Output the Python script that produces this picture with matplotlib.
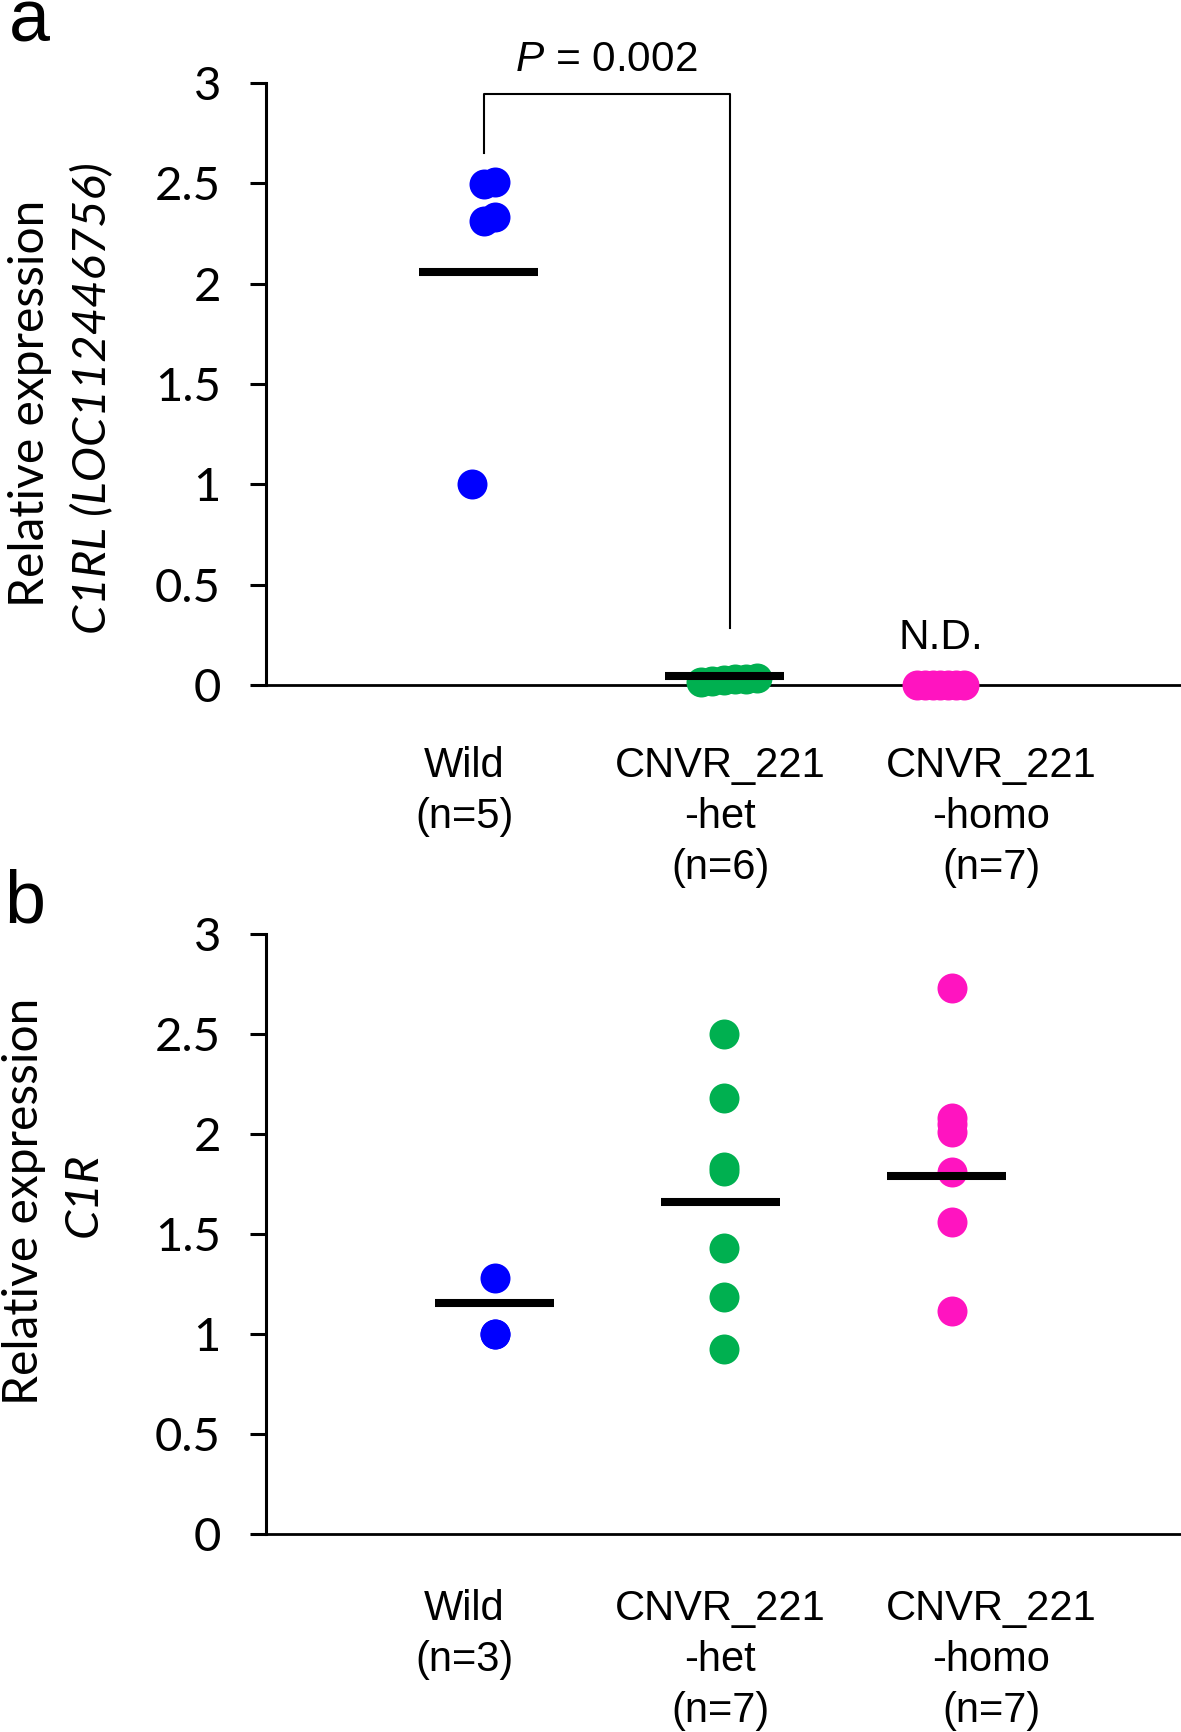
import matplotlib
matplotlib.use("Agg")
import matplotlib.pyplot as plt

plt.rcParams["mathtext.fontset"] = "custom"
plt.rcParams["mathtext.it"] = "Liberation Sans:italic"
plt.rcParams["mathtext.rm"] = "Liberation Sans"

# ---- data ----
groups = ["Wild", "CNVR_221-het", "CNVR_221-homo"]
group_pos = [1, 2, 3]

# panel a: C1RL (LOC112446756)
wild_a = [2.505, 2.495, 2.33, 2.31, 1.00]
het_a = [0.016, 0.02, 0.024, 0.028, 0.032, 0.036]
homo_a = [0, 0, 0, 0, 0, 0, 0]
means_a = [2.06, 0.047]

# panel b: C1R
wild_b = [1.28, 1.00, 1.00]
het_b = [2.50, 2.18, 1.836, 1.813, 1.43, 1.185, 0.922]
homo_b = [2.73, 2.08, 2.05, 2.01, 1.81, 1.56, 1.115]
means_b = [1.152, 1.657, 1.789]

labels_a = [["Wild", "(n=5)"], ["CNVR_221", "-het", "(n=6)"], ["CNVR_221", "-homo", "(n=7)"]]
labels_b = [["Wild", "(n=3)"], ["CNVR_221", "-het", "(n=7)"], ["CNVR_221", "-homo", "(n=7)"]]

# horizontal scatter of the dots as drawn
jit_wild_a = [0.0, -0.045, 0.0, -0.045, -0.10]
jit_het_a = [-0.10, -0.05, 0.0, 0.05, 0.10, 0.145]
jit_homo_a = [-0.154, -0.12, -0.086, -0.052, -0.018, 0.016, 0.05]

colors = ["#0000FF", "#00B050", "#FF14C0"]

W, H = 1181, 1732
fig = plt.figure(figsize=(W / 100, H / 100), dpi=100)

tick_font = "Lato"
lab_font = "Liberation Sans"


def style_axis(ax):
    ax.set_xlim(0, 4)
    ax.set_ylim(0, 3)
    ax.set_yticks([0, 0.5, 1, 1.5, 2, 2.5, 3])
    ax.set_yticklabels(["0", "0.5", "1", "1.5", "2", "2.5", "3"],
                       fontsize=34, fontname=tick_font)
    ax.set_xticks([])
    for s in ["top", "right"]:
        ax.spines[s].set_visible(False)
    ax.spines["left"].set_linewidth(2.2)
    ax.spines["bottom"].set_linewidth(2.0)
    ax.tick_params(axis="y", direction="out", length=11.5, width=2.2, pad=21)
    ax.patch.set_alpha(0)


def draw_group(ax, x, vals, jit, col):
    xs = [x + j for j in jit]
    ax.scatter(xs, vals, s=466, color=col, linewidths=0, zorder=3, clip_on=False)


def draw_mean(ax, x, y):
    ax.hlines(y, x - 0.26, x + 0.26, color="black", linewidth=5.8,
              capstyle="butt", zorder=4)


def draw_labels(ax, lbls, xs, offs):
    for lines, x in zip(lbls, xs):
        for line, o in zip(lines, offs):
            ax.annotate(line, xy=(x, 0), xytext=(0, -o * 0.72),
                        textcoords="offset points", ha="center", va="baseline",
                        fontsize=30, fontname=lab_font, annotation_clip=False)


label_x = [0.866, 1.985, 3.17]

# ---- panel a ----
ax_a = fig.add_axes([266 / W, 1 - 685 / H, (W - 266) / W, (685 - 83) / H])
style_axis(ax_a)
draw_group(ax_a, group_pos[0], wild_a, jit_wild_a, colors[0])
draw_group(ax_a, group_pos[1], het_a, jit_het_a, colors[1])
draw_group(ax_a, group_pos[2], homo_a, jit_homo_a, colors[2])
draw_mean(ax_a, group_pos[0] - 0.073, means_a[0])
draw_mean(ax_a, group_pos[1] + 0.005, means_a[1])
draw_labels(ax_a, labels_a, label_x, [92, 143, 194])

# significance bracket
ax_a.plot([0.953, 0.953, 2.028, 2.028], [2.65, 2.945, 2.945, 0.286],
          color="black", linewidth=1.5, clip_on=False)
ax_a.text(1.489, 3.06, "$\\mathit{P}$ = 0.002", ha="center", va="baseline",
          fontsize=30.5, fontname=lab_font)
ax_a.text(2.95, 0.18, "N.D.", ha="center", va="baseline",
          fontsize=30.5, fontname=lab_font)

# ---- panel b ----
ax_b = fig.add_axes([266 / W, 1 - 1533.7 / H, (W - 266) / W, 600 / H])
style_axis(ax_b)
for i, vals in enumerate([wild_b, het_b, homo_b]):
    draw_group(ax_b, group_pos[i], vals, [0] * len(vals), colors[i])
draw_mean(ax_b, group_pos[0], means_b[0])
draw_mean(ax_b, group_pos[1] - 0.015, means_b[1])
draw_mean(ax_b, group_pos[2] - 0.025, means_b[2])
draw_labels(ax_b, labels_b, label_x, [86, 137, 188])

# ---- y labels ----
fig.text(30 / W, 1 - 403 / H, "Relative expression", rotation=90,
         ha="center", va="center", fontsize=34.5, fontname=tick_font)
fig.text(92 / W, 1 - 398 / H, "C1RL (LOC112446756)", rotation=90,
         ha="center", va="center", fontsize=34, fontname=tick_font, style="italic")
fig.text(24 / W, 1 - 1201 / H, "Relative expression", rotation=90,
         ha="center", va="center", fontsize=34.5, fontname=tick_font)
fig.text(84 / W, 1 - 1195 / H, "C1R", rotation=90,
         ha="center", va="center", fontsize=34, fontname=tick_font, style="italic")

# panel letters
fig.text(9 / W, 1 - 41 / H, "a", fontsize=53, fontname=lab_font, va="baseline")
fig.text(4 / W, 1 - 923 / H, "b", fontsize=53, fontname=lab_font, va="baseline")

fig.savefig("out.png", dpi=100)
